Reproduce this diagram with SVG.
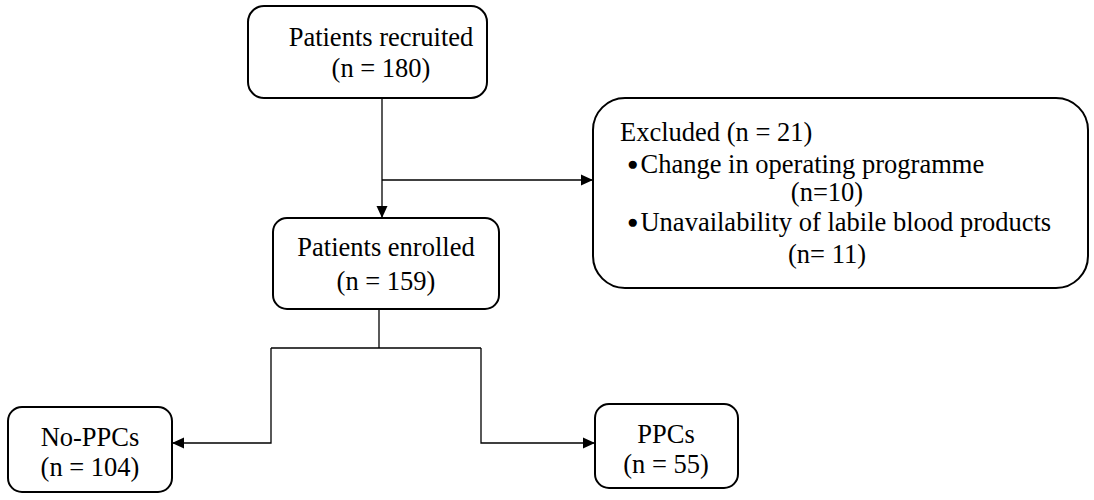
<svg xmlns="http://www.w3.org/2000/svg" width="1094" height="500" viewBox="0 0 1094 500">
<defs>
<marker id="arr" markerWidth="12" markerHeight="12" refX="11" refY="6" orient="auto" markerUnits="userSpaceOnUse"><path d="M0,0.5 L12,6 L0,11.5 z" fill="#000"/></marker>
<style>
.box{fill:#fff;stroke:#000;stroke-width:2}
.t{font-family:"Liberation Serif","Times New Roman",serif;font-size:26.5px;fill:#000}
.c{text-anchor:middle}
.b{font-size:19px}
.ln{fill:none;stroke:#000;stroke-width:1.3}
</style>
</defs>
<rect width="1094" height="500" fill="#fff"/>
<g id="connectors">
<path class="ln" d="M382,98 V217" marker-end="url(#arr)"/>
<path class="ln" d="M382,180 H592" marker-end="url(#arr)"/>
<path class="ln" d="M379,309 V348" stroke="#777"/>
<path class="ln" d="M271,348 H481"/>
<path class="ln" d="M271,348 V443 H173" marker-end="url(#arr)"/>
<path class="ln" d="M481,348 V443 H594" marker-end="url(#arr)"/>
</g>
<g id="recruited">
<rect class="box" x="248" y="6" width="239" height="92" rx="16"/>
<text class="t c" x="381" y="46">Patients recruited</text>
<text class="t c" x="381" y="77">(n = 180)</text>
</g>
<g id="excluded">
<rect class="box" x="593" y="98" width="495" height="190" rx="32"/>
<text class="t" x="620" y="141">Excluded (n = 21)</text>
<text class="t" x="627" y="173"><tspan class="b" dy="-3">●</tspan><tspan dy="3" dx="2">Change in operating programme</tspan></text>
<text class="t c" x="827" y="201">(n=10)</text>
<text class="t" x="627" y="231"><tspan class="b" dy="-3">●</tspan><tspan dy="3" dx="2">Unavailability of labile blood products</tspan></text>
<text class="t c" x="827" y="263">(n= 11)</text>
</g>
<g id="enrolled">
<rect class="box" x="273" y="218" width="226" height="91" rx="14"/>
<text class="t c" x="386" y="256">Patients enrolled</text>
<text class="t c" x="386" y="290">(n = 159)</text>
</g>
<g id="noppcs">
<rect class="box" x="8" y="407" width="164" height="85" rx="14"/>
<text class="t c" x="90" y="446">No-PPCs</text>
<text class="t c" x="90" y="476">(n = 104)</text>
</g>
<g id="ppcs">
<rect class="box" x="595" y="404" width="143" height="84" rx="14"/>
<text class="t c" x="666" y="443">PPCs</text>
<text class="t c" x="666" y="473">(n = 55)</text>
</g>
</svg>
